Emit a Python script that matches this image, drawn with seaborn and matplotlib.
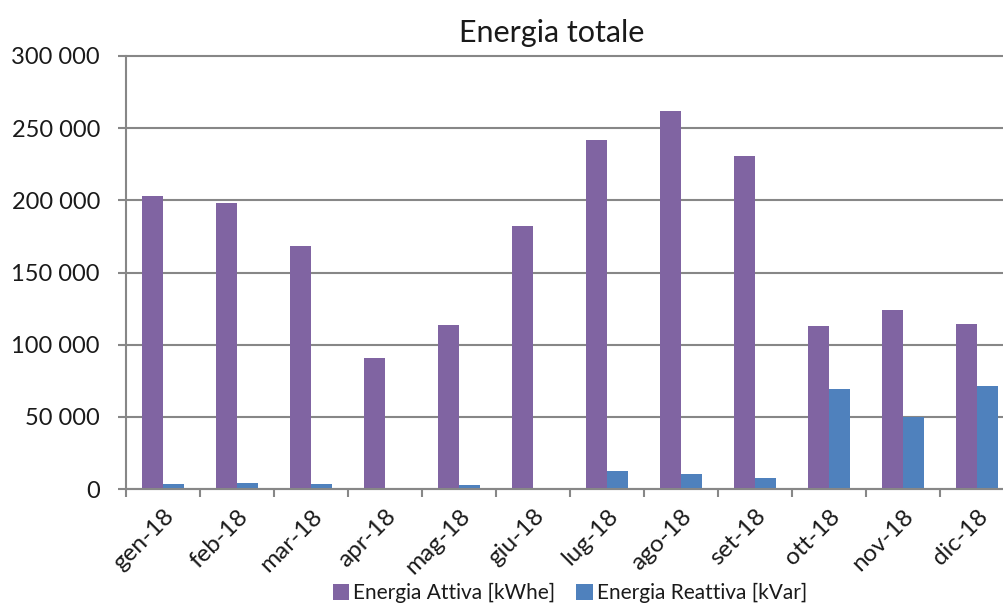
import matplotlib
matplotlib.use("Agg")
import matplotlib.pyplot as plt
import matplotlib.ticker as mticker
import seaborn as sns
import pandas as pd
import numpy as np

months = ["gen-18", "feb-18", "mar-18", "apr-18", "mag-18", "giu-18",
          "lug-18", "ago-18", "set-18", "ott-18", "nov-18", "dic-18"]
attiva = [203000, 198000, 168500, 91000, 113800, 182300,
          241800, 262000, 230800, 113000, 124200, 114500]
reattiva = [3500, 4200, 3500, 0, 2600, 0,
            12500, 10400, 7800, 69000, 50100, 71600]
series_names = ["Energia Attiva [kWhe]", "Energia Reattiva [kVar]"]
colors = ["#8064A2", "#4F81BD"]

df = pd.DataFrame({
    "mese": months * 2,
    "valore": attiva + reattiva,
    "serie": [series_names[0]] * len(months) + [series_names[1]] * len(months),
})

sns.set_theme(style="white")
plt.rcParams["font.family"] = ["Lato", "DejaVu Sans"]

fig = plt.figure(figsize=(10.04, 6.04), dpi=100)
ax = fig.add_axes([126 / 1004, 1 - 489 / 604, 1 - 126 / 1004, (489 - 56) / 604])

sns.barplot(data=df, x="mese", y="valore", hue="serie", order=months,
            hue_order=series_names, palette=colors, width=0.57,
            saturation=1, ax=ax, legend=True)

for p in ax.patches:
    p.set_edgecolor("none")

grid_c = "#878787"
text_c = "#1a1a1a"
ax.set_ylim(0, 300000)
ax.set_xlim(-0.5, -0.5 + (1004 - 126) / 74)
ax.yaxis.set_major_locator(mticker.MultipleLocator(50000))
ax.yaxis.set_major_formatter(mticker.FuncFormatter(lambda v, _: f"{int(v):,}".replace(",", " ")))
ax.grid(axis="y", color=grid_c, linewidth=1.5, clip_on=False)
ax.set_axisbelow(True)

for s in ["top", "right"]:
    ax.spines[s].set_visible(False)
for s in ["left", "bottom"]:
    ax.spines[s].set_color(grid_c)
    ax.spines[s].set_linewidth(1.5)

ax.tick_params(axis="y", which="major", left=True, length=5.8, width=1.5,
               color=grid_c, labelsize=17, pad=13, labelcolor=text_c)

# Category labels in the middle, tick marks on the boundaries
ax.set_xticks(np.arange(len(months)))
ax.set_xticklabels(months)
ax.set_xticks(np.arange(len(months)) - 0.5, minor=True)
ax.tick_params(axis="x", which="major", bottom=False, length=0, labelsize=17.5,
               pad=12, labelcolor=text_c)
ax.tick_params(axis="x", which="minor", bottom=True, length=5.8, width=1.5, color=grid_c)
for lbl in ax.get_xticklabels():
    lbl.set_rotation(45)
    lbl.set_ha("right")
    lbl.set_rotation_mode("anchor")

ax.set_xlabel("")
ax.set_ylabel("")
ax.set_title("Energia totale", fontsize=22, pad=10, color=text_c,
             x=(552 - 126) / (1004 - 126))

leg = ax.legend(loc="center", bbox_to_anchor=((570 - 126) / 878, (489 - 593) / 433),
                ncol=2, frameon=False, fontsize=15, handlelength=0.8,
                handleheight=0.8, handletextpad=0.2, columnspacing=1.0)
for t in leg.get_texts():
    t.set_color(text_c)

fig.savefig("out.png", dpi=100)
